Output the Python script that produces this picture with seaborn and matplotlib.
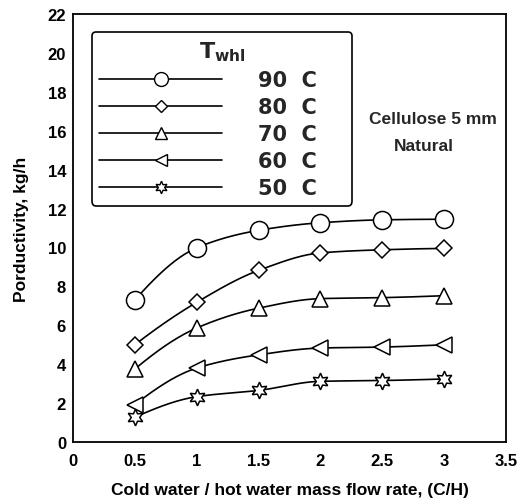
import numpy as np
import pandas as pd
import matplotlib
matplotlib.use("Agg")
import matplotlib.pyplot as plt
from matplotlib.lines import Line2D
from matplotlib.ticker import FixedLocator
import seaborn as sns

# Cold / hot water mass flow ratio (C/H)
flow_ratio = [0.5, 1.0, 1.5, 2.0, 2.5, 3.0]

# Productivity (kg/h) for each hot-water inlet temperature
prod_90 = [7.3, 9.98, 10.88, 11.27, 11.42, 11.45]
prod_80 = [5.0, 7.18, 8.82, 9.72, 9.88, 9.95]
prod_70 = [3.75, 5.86, 6.88, 7.37, 7.42, 7.52]
prod_60 = [1.92, 3.80, 4.48, 4.83, 4.88, 5.0]
prod_50 = [1.27, 2.33, 2.65, 3.12, 3.16, 3.24]

series_labels = ["90  C", "80  C", "70  C", "60  C", "50  C"]
series_values = [prod_90, prod_80, prod_70, prod_60, prod_50]

x_ticks = [0, 0.5, 1, 1.5, 2, 2.5, 3, 3.5]
x_tick_labels = ["0", "0.5", "1", "1.5", "2", "2.5", "3", "3.5"]
y_ticks = list(range(0, 23, 2))

markers = {
    "90  C": "o",
    "80  C": "D",
    "70  C": "^",
    "60  C": "<",
    "50  C": (6, 1, 0),
}
marker_sizes = {"90  C": 13, "80  C": 8.5, "70  C": 12, "60  C": 12, "50  C": 12}
legend_sizes = {"90  C": 10, "80  C": 6.5, "70  C": 9, "60  C": 9, "50  C": 9}


def smooth_curve(x, y, n=200):
    """Monotone piecewise-cubic (PCHIP) path through the measured points."""
    x = np.asarray(x, float)
    y = np.asarray(y, float)
    h = np.diff(x)
    d = np.diff(y) / h
    m = np.zeros_like(y)
    for k in range(1, len(x) - 1):
        if d[k - 1] * d[k] > 0:
            w1 = 2 * h[k] + h[k - 1]
            w2 = h[k] + 2 * h[k - 1]
            m[k] = (w1 + w2) / (w1 / d[k - 1] + w2 / d[k])
    m0 = ((2 * h[0] + h[1]) * d[0] - h[0] * d[1]) / (h[0] + h[1])
    if np.sign(m0) != np.sign(d[0]):
        m0 = 0.0
    elif np.sign(d[0]) != np.sign(d[1]) and abs(m0) > abs(3 * d[0]):
        m0 = 3 * d[0]
    m[0] = m0
    mn = ((2 * h[-1] + h[-2]) * d[-1] - h[-1] * d[-2]) / (h[-1] + h[-2])
    if np.sign(mn) != np.sign(d[-1]):
        mn = 0.0
    elif np.sign(d[-1]) != np.sign(d[-2]) and abs(mn) > abs(3 * d[-1]):
        mn = 3 * d[-1]
    m[-1] = mn
    xs = np.linspace(x[0], x[-1], n)
    idx = np.clip(np.searchsorted(x, xs) - 1, 0, len(x) - 2)
    t = (xs - x[idx]) / h[idx]
    h00 = 2 * t**3 - 3 * t**2 + 1
    h10 = t**3 - 2 * t**2 + t
    h01 = -2 * t**3 + 3 * t**2
    h11 = t**3 - t**2
    ys = (h00 * y[idx] + h10 * h[idx] * m[idx]
          + h01 * y[idx + 1] + h11 * h[idx] * m[idx + 1])
    return xs, ys


# Long-form tables for seaborn
points = pd.concat(
    [pd.DataFrame({"ratio": flow_ratio, "prod": vals, "T": lab})
     for lab, vals in zip(series_labels, series_values)],
    ignore_index=True,
)
curves = []
for lab, vals in zip(series_labels, series_values):
    xs, ys = smooth_curve(flow_ratio, vals)
    curves.append(pd.DataFrame({"ratio": xs, "prod": ys, "T": lab}))
curves = pd.concat(curves, ignore_index=True)

sns.set_theme(style="white")
plt.rcParams["font.family"] = ["Liberation Sans", "DejaVu Sans"]
plt.rcParams["font.weight"] = "bold"
plt.rcParams["mathtext.fontset"] = "custom"
plt.rcParams["mathtext.rm"] = "DejaVu Sans:bold"
plt.rcParams["mathtext.it"] = "DejaVu Sans:bold"

fig = plt.figure(figsize=(5.20, 5.02), dpi=100)
ax = fig.add_axes([73 / 520, 59 / 502, 433 / 520, 428 / 502])

sns.lineplot(data=curves, x="ratio", y="prod", units="T", estimator=None,
             color="black", linewidth=1.2, ax=ax, legend=False, sort=False)

for lab in series_labels:
    sub = points[points["T"] == lab]
    ax.plot(sub["ratio"], sub["prod"], linestyle="none",
            marker=markers[lab], markersize=marker_sizes[lab],
            markerfacecolor="white", markeredgecolor="black",
            markeredgewidth=1.1, zorder=3)

ax.set_xlim(0, 3.5)
ax.set_ylim(0, 22)

# x ticks: short at every 0.5, longer at whole numbers
ax.xaxis.set_major_locator(FixedLocator(x_ticks))
ax.set_xticklabels(x_tick_labels)
ax.xaxis.set_minor_locator(FixedLocator([1, 2, 3]))
ax.tick_params(axis="x", which="major", direction="in", length=5, width=1.1,
               pad=8, labelsize=12, colors="black")
ax.tick_params(axis="x", which="minor", direction="in", length=9.5, width=1.1,
               bottom=True)
ax.set_yticks(y_ticks)
ax.tick_params(axis="y", which="major", direction="in", length=9, width=1.1,
               pad=5, labelsize=12, colors="black")
for lab in ax.get_xticklabels() + ax.get_yticklabels():
    lab.set_fontweight("bold")

for spine in ax.spines.values():
    spine.set_visible(True)
    spine.set_color("black")
    spine.set_linewidth(1.3)

ax.set_xlabel("Cold water / hot water mass flow rate, (C/H)", fontsize=12.5,
              fontweight="bold", labelpad=10, color="black")
ax.set_ylabel("Porductivity, kg/h", fontsize=12.5, fontweight="bold",
              labelpad=13, color="black")

ax.text(0.831, 0.755, "Cellulose 5 mm", transform=ax.transAxes, fontsize=12.5,
        fontweight="bold", ha="center", va="center")
ax.text(0.811, 0.693, "Natural", transform=ax.transAxes, fontsize=12.5,
        fontweight="bold", ha="center", va="center")

handles = [
    Line2D([], [], color="black", linewidth=1.2, marker=markers[lab],
           markersize=legend_sizes[lab], markerfacecolor="white",
           markeredgecolor="black", markeredgewidth=1.0)
    for lab in series_labels
]
leg = ax.legend(handles, series_labels, title=r"$\mathrm{T_{whl}}$",
                loc="upper left", bbox_to_anchor=(0.044, 0.5, 0.600, 0.458),
                mode="expand",
                prop={"size": 15, "weight": "bold", "family": "DejaVu Sans"},
                title_fontsize=16,
                handlelength=5.9, handletextpad=1.7, labelspacing=0.34,
                borderpad=0.35, frameon=True, fancybox=True,
                borderaxespad=0)
leg.get_frame().set_edgecolor("black")
leg.get_frame().set_linewidth(1.2)
leg.get_frame().set_alpha(1)

fig.savefig("out.png", dpi=100)
